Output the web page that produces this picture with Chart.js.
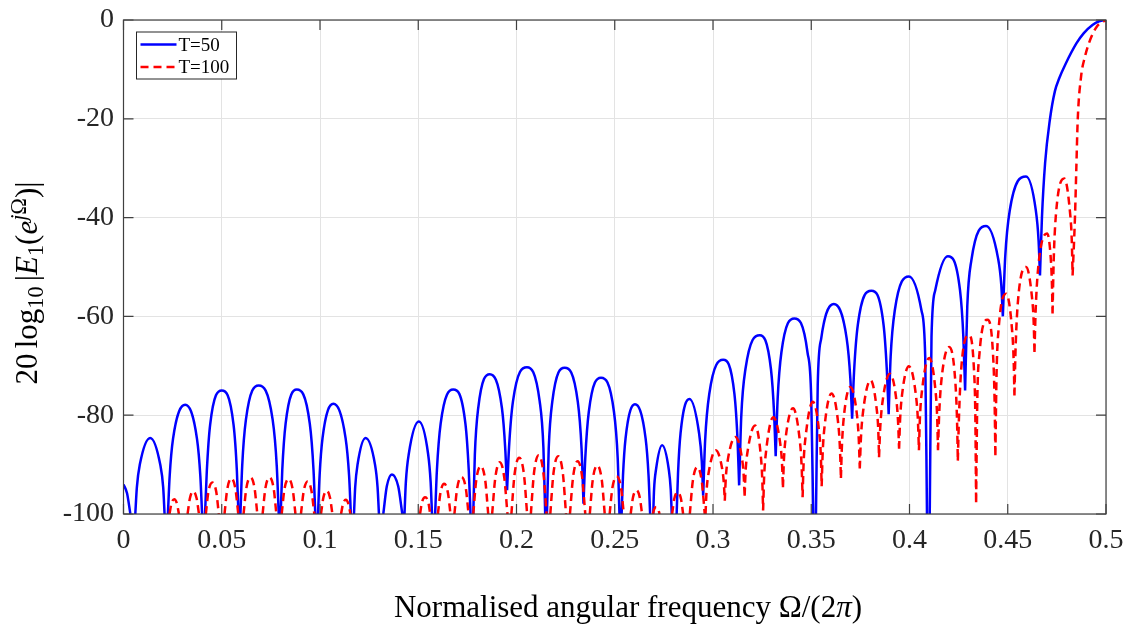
<!DOCTYPE html>
<html>
<head>
<meta charset="utf-8">
<script src="https://cdn.jsdelivr.net/npm/chart.js"></script>
<style>
  html, body { margin: 0; padding: 0; background: #fff; }
  canvas { display: block; }
</style>
</head>
<body>
<canvas id="chart" width="1138" height="627"></canvas>
<script>
// axis ticks
const xTicks = [0, 0.05, 0.1, 0.15, 0.2, 0.25, 0.3, 0.35, 0.4, 0.45, 0.5];
const xTickLabels = ['0', '0.05', '0.1', '0.15', '0.2', '0.25', '0.3', '0.35', '0.4', '0.45', '0.5'];
const yTicks = [-100, -80, -60, -40, -20, 0];
const yTickLabels = ['-100', '-80', '-60', '-40', '-20', '0'];
const seriesLabels = ['T=50', 'T=100'];

// |E1| in dB: [frequency, dB]
const lobesT50 = [
  [[0, -94.0], [0.0018, -95.8], [0.0035, -100]],
  [[0.0060, -100], [0.0068, -94.6], [0.0083, -90.0], [0.0136, -84.6], [0.0187, -90.0], [0.0202, -94.6], [0.0209, -100]],
  [[0.0226, -100], [0.0235, -92.3], [0.0252, -84.8], [0.0314, -77.9], [0.0374, -84.8], [0.0391, -92.3], [0.0400, -100]],
  [[0.0415, -100], [0.0424, -91.3], [0.0441, -81.9], [0.0500, -75.0], [0.0560, -81.9], [0.0577, -91.3], [0.0585, -100]],
  [[0.0595, -100], [0.0604, -90.3], [0.0623, -80.9], [0.0688, -74.0], [0.0759, -80.9], [0.0780, -90.3], [0.0790, -100]],
  [[0.0800, -100], [0.0808, -91.1], [0.0825, -81.7], [0.0882, -74.8], [0.0948, -81.7], [0.0967, -91.1], [0.0976, -100]],
  [[0.0990, -100], [0.0998, -92.2], [0.1013, -84.6], [0.1068, -77.7], [0.1130, -84.6], [0.1148, -92.2], [0.1157, -100]],
  [[0.1173, -100], [0.1179, -94.6], [0.1191, -90.0], [0.1232, -84.6], [0.1280, -90.0], [0.1293, -94.6], [0.1300, -100]],
  [[0.1322, -100], [0.1340, -94.4], [0.1366, -92.0], [0.1398, -94.4], [0.1419, -100]],
  [[0.1430, -100], [0.1437, -93.5], [0.1452, -87.8], [0.1503, -81.3], [0.1550, -87.8], [0.1563, -93.5], [0.1570, -100]],
  [[0.1586, -100], [0.1595, -91.1], [0.1614, -81.7], [0.1678, -74.8], [0.1740, -81.7], [0.1757, -91.1], [0.1766, -100]],
  [[0.1780, -100], [0.1788, -88.0], [0.1805, -78.6], [0.1864, -71.7], [0.1926, -78.6], [0.1943, -87.0], [0.1952, -95.2]],
  [[0.1952, -95.2], [0.1962, -86.5], [0.1982, -77.2], [0.2053, -70.3], [0.2118, -77.2], [0.2137, -86.6], [0.2146, -100]],
  [[0.2155, -100], [0.2164, -86.7], [0.2182, -77.3], [0.2245, -70.4], [0.2312, -77.3], [0.2331, -86.7], [0.2341, -97.9]],
  [[0.2341, -97.9], [0.2350, -88.7], [0.2368, -79.3], [0.2430, -72.4], [0.2496, -79.3], [0.2515, -88.7], [0.2524, -100]],
  [[0.2535, -100], [0.2542, -92.2], [0.2555, -84.7], [0.2603, -77.8], [0.2657, -84.7], [0.2672, -92.2], [0.2680, -100]],
  [[0.2696, -100], [0.2700, -95.1], [0.2710, -91.0], [0.2741, -86.1], [0.2775, -91.0], [0.2785, -95.1], [0.2790, -100]],
  [[0.2815, -100], [0.2822, -91.8], [0.2835, -83.6], [0.2880, -76.7], [0.2929, -83.6], [0.2943, -89.4], [0.2950, -96.3]],
  [[0.2950, -96.3], [0.2960, -85.1], [0.2981, -75.7], [0.3052, -68.8], [0.3109, -75.7], [0.3125, -85.1], [0.3133, -94.2]],
  [[0.3133, -94.2], [0.3144, -80.1], [0.3165, -70.7], [0.3238, -63.8], [0.3295, -70.7], [0.3311, -79.7], [0.3319, -88.3]],
  [[0.3319, -88.3], [0.3329, -76.7], [0.3348, -67.3], [0.3414, -60.4], [0.3481, -67.3], [0.3500, -76.7], [0.3510, -100]],
  [[0.3524, -100], [0.3533, -73.8], [0.3551, -64.4], [0.3615, -57.5], [0.3680, -64.4], [0.3699, -72.6], [0.3708, -80.7]],
  [[0.3708, -80.7], [0.3718, -71.1], [0.3737, -61.7], [0.3806, -54.8], [0.3868, -61.7], [0.3885, -71.1], [0.3894, -79.8]],
  [[0.3894, -79.8], [0.3904, -68.2], [0.3925, -58.8], [0.3997, -51.9], [0.4061, -58.8], [0.4080, -68.2], [0.4089, -100]],
  [[0.4103, -100], [0.4112, -64.1], [0.4131, -54.7], [0.4195, -47.8], [0.4257, -54.7], [0.4274, -64.1], [0.4283, -75.0]],
  [[0.4283, -75.0], [0.4294, -58.0], [0.4315, -48.6], [0.4390, -41.7], [0.4450, -48.1], [0.4467, -53.6], [0.4475, -60.0]],
  [[0.4475, -60.0], [0.4487, -48.0], [0.4510, -38.6], [0.4593, -31.7], [0.4643, -38.6], [0.4657, -44.7], [0.4664, -51.7]],
  [[0.4664, -51.7], [0.4674, -40.0], [0.4690, -29.0], [0.4714, -20.3], [0.4740, -14.4], [0.4762, -11.8], [0.4793, -9.0],
   [0.4850, -4.7], [0.4886, -2.7], [0.4931, -1.0], [0.4965, -0.26], [0.5000, 0]]
];

const lobesT100 = [
  [[0.0234, -100], [0.0244, -97.9], [0.0258, -97.0], [0.0272, -97.9], [0.0282, -100]],
  [[0.0326, -100], [0.0338, -96.8], [0.0355, -95.4], [0.0372, -96.8], [0.0384, -100]],
  [[0.0419, -100], [0.0432, -95.5], [0.0452, -93.6], [0.0472, -95.5], [0.0485, -100]],
  [[0.0514, -100], [0.0528, -95.0], [0.0549, -92.8], [0.0570, -95.0], [0.0584, -100]],
  [[0.0611, -100], [0.0625, -94.8], [0.0646, -92.6], [0.0667, -94.8], [0.0681, -100]],
  [[0.0708, -100], [0.0722, -94.8], [0.0743, -92.6], [0.0764, -94.8], [0.0778, -100]],
  [[0.0805, -100], [0.0819, -95.0], [0.0840, -92.9], [0.0861, -95.0], [0.0875, -100]],
  [[0.0903, -100], [0.0917, -95.4], [0.0937, -93.4], [0.0957, -95.4], [0.0971, -100]],
  [[0.1005, -100], [0.1017, -96.7], [0.1034, -95.3], [0.1051, -96.7], [0.1063, -100]],
  [[0.1107, -100], [0.1117, -98.0], [0.1131, -97.1], [0.1145, -98.0], [0.1155, -100]],
  [[0.1509, -100], [0.1519, -97.6], [0.1535, -96.6], [0.1551, -97.6], [0.1561, -100]],
  [[0.1600, -100], [0.1613, -95.7], [0.1632, -93.9], [0.1651, -95.7], [0.1664, -100]],
  [[0.1684, -100], [0.1698, -94.8], [0.1720, -92.5], [0.1742, -94.8], [0.1756, -100]],
  [[0.1780, -100], [0.1795, -93.2], [0.1818, -90.3], [0.1841, -93.2], [0.1856, -100]],
  [[0.1876, -100], [0.1892, -92.7], [0.1915, -89.5], [0.1938, -92.7], [0.1954, -100]],
  [[0.1974, -100], [0.1990, -92.0], [0.2014, -88.6], [0.2038, -92.0], [0.2054, -100]],
  [[0.2073, -100], [0.2089, -91.7], [0.2113, -88.1], [0.2137, -91.7], [0.2153, -100]],
  [[0.2172, -100], [0.2188, -91.8], [0.2212, -88.3], [0.2236, -91.8], [0.2252, -100]],
  [[0.2272, -100], [0.2288, -92.5], [0.2311, -89.3], [0.2334, -92.5], [0.2350, -100]],
  [[0.2373, -100], [0.2388, -93.1], [0.2411, -90.2], [0.2434, -93.1], [0.2449, -100]],
  [[0.2474, -100], [0.2488, -94.7], [0.2510, -92.4], [0.2532, -94.7], [0.2546, -100]],
  [[0.2581, -100], [0.2593, -96.6], [0.2610, -95.2], [0.2627, -96.6], [0.2639, -100]],
  [[0.2694, -100], [0.2701, -99.0], [0.2711, -98.6], [0.2721, -99.0], [0.2728, -100]],
  [[0.2792, -100], [0.2803, -96.9], [0.2820, -95.6], [0.2837, -96.9], [0.2848, -100]],
  [[0.2882, -100], [0.2897, -93.4], [0.2920, -90.5], [0.2943, -93.4], [0.2958, -100]],
  [[0.2962, -100], [0.2967, -95.5], [0.2978, -91.6], [0.3014, -87.1], [0.3046, -90.7], [0.3055, -93.7], [0.3060, -97.3]],
  [[0.3060, -97.3], [0.3065, -92.8], [0.3076, -88.9], [0.3114, -84.4], [0.3147, -88.6], [0.3156, -92.1], [0.3161, -96.3]],
  [[0.3161, -96.3], [0.3166, -91.3], [0.3177, -87.1], [0.3214, -82.1], [0.3243, -88.1], [0.3251, -93.3], [0.3255, -99.3]],
  [[0.3255, -99.3], [0.3260, -92.7], [0.3271, -87.0], [0.3307, -80.4], [0.3341, -85.4], [0.3351, -89.6], [0.3356, -94.6]],
  [[0.3356, -94.6], [0.3361, -89.0], [0.3371, -84.2], [0.3407, -78.6], [0.3441, -84.9], [0.3451, -90.3], [0.3456, -96.6]],
  [[0.3456, -96.6], [0.3461, -89.8], [0.3472, -84.1], [0.3508, -77.3], [0.3540, -83.3], [0.3549, -88.4], [0.3553, -94.4]],
  [[0.3553, -94.4], [0.3558, -87.8], [0.3568, -82.2], [0.3603, -75.6], [0.3637, -81.6], [0.3646, -86.7], [0.3651, -92.7]],
  [[0.3651, -92.7], [0.3656, -86.3], [0.3665, -80.7], [0.3699, -74.3], [0.3733, -80.1], [0.3742, -85.0], [0.3747, -90.8]],
  [[0.3747, -90.8], [0.3753, -84.5], [0.3764, -79.2], [0.3802, -72.9], [0.3832, -78.4], [0.3841, -83.0], [0.3845, -88.5]],
  [[0.3845, -88.5], [0.3851, -82.6], [0.3862, -77.5], [0.3900, -71.6], [0.3933, -76.9], [0.3942, -81.5], [0.3947, -86.8]],
  [[0.3947, -86.8], [0.3952, -81.0], [0.3962, -75.9], [0.3997, -70.1], [0.4033, -76.1], [0.4043, -81.2], [0.4048, -87.1]],
  [[0.4048, -87.1], [0.4053, -80.6], [0.4064, -74.9], [0.4100, -68.4], [0.4132, -74.9], [0.4141, -80.6], [0.4145, -87.1]],
  [[0.4145, -87.1], [0.4151, -79.8], [0.4162, -73.1], [0.4202, -66.2], [0.4233, -73.1], [0.4242, -81.2], [0.4246, -89.2]],
  [[0.4246, -89.2], [0.4252, -80.1], [0.4263, -70.7], [0.4302, -63.8], [0.4328, -70.7], [0.4335, -80.1], [0.4339, -97.6]],
  [[0.4339, -97.6], [0.4345, -77.0], [0.4356, -67.6], [0.4397, -60.7], [0.4425, -67.6], [0.4433, -77.0], [0.4437, -88.1]],
  [[0.4437, -88.1], [0.4443, -71.7], [0.4454, -62.3], [0.4492, -55.4], [0.4521, -62.3], [0.4530, -68.8], [0.4534, -76.0]],
  [[0.4534, -76.0], [0.4540, -66.3], [0.4552, -56.9], [0.4593, -50.0], [0.4623, -56.0], [0.4632, -61.2], [0.4636, -67.2]],
  [[0.4636, -67.2], [0.4642, -58.8], [0.4655, -50.1], [0.4700, -43.2], [0.4720, -48.9], [0.4725, -53.7], [0.4728, -59.4]],
  [[0.4728, -59.4], [0.4734, -48.4], [0.4746, -39.0], [0.4788, -32.1], [0.4817, -39.0], [0.4826, -44.8], [0.4830, -51.7]],
  [[0.4830, -51.7], [0.4842, -40.0], [0.4849, -30.0], [0.4856, -20.3], [0.4873, -11.5], [0.4893, -7.4], [0.4913, -4.7],
   [0.4952, -1.4], [0.5000, 0]]
];

const SERIF = '"Liberation Serif", "Times New Roman", serif';

// each lobe is its own piece of line, so the nulls stay sharp
function toPoints(lobes) {
  const pts = [];
  lobes.forEach(lobe => {
    lobe.forEach(([x, y]) => pts.push({ x: x, y: y }));
    pts.push({ x: lobe[lobe.length - 1][0], y: null });
  });
  return pts;
}

// text made of runs with italics, sub- and superscripts, centred on 0
function drawRuns(ctx, runs, size) {
  const fontOf = r => (r.it ? 'italic ' : '') + (size * (r.sc || 1)) + 'px ' + SERIF;
  let total = 0;
  const widths = runs.map(r => {
    if (r.gap) return r.gap * size;
    ctx.font = fontOf(r);
    return ctx.measureText(r.t).width;
  });
  widths.forEach(w => { total += w; });
  let x = -total / 2;
  ctx.textAlign = 'left';
  ctx.textBaseline = 'alphabetic';
  runs.forEach((r, i) => {
    if (!r.gap) {
      ctx.font = fontOf(r);
      ctx.fillText(r.t, x, (r.dy || 0) * size);
    }
    x += widths[i];
  });
}

const frame = {
  id: 'frame',
  afterDatasetsDraw(chart) {
    const { ctx, chartArea: a, scales: { x, y } } = chart;
    ctx.save();
    ctx.strokeStyle = '#404040';
    ctx.lineWidth = 1.2;
    ctx.strokeRect(a.left, a.top, a.right - a.left, a.bottom - a.top);
    ctx.beginPath();
    xTicks.forEach(v => {
      const px = x.getPixelForValue(v);
      ctx.moveTo(px, a.bottom); ctx.lineTo(px, a.bottom - 10);
      ctx.moveTo(px, a.top); ctx.lineTo(px, a.top + 10);
    });
    yTicks.forEach(v => {
      const py = y.getPixelForValue(v);
      ctx.moveTo(a.left, py); ctx.lineTo(a.left + 10, py);
      ctx.moveTo(a.right, py); ctx.lineTo(a.right - 10, py);
    });
    ctx.stroke();

    // legend box, top left inside the axes
    const lx = a.left + 13, ly = a.top + 12, lw = 100, lh = 47;
    ctx.fillStyle = '#fff';
    ctx.fillRect(lx, ly, lw, lh);
    ctx.strokeStyle = '#262626';
    ctx.lineWidth = 1;
    ctx.strokeRect(lx, ly, lw, lh);
    chart.data.datasets.forEach((ds, i) => {
      const rowY = ly + 12.5 + i * 22.4;
      ctx.beginPath();
      ctx.strokeStyle = ds.borderColor;
      ctx.lineWidth = 2.5;
      ctx.setLineDash(ds.borderDash || []);
      ctx.moveTo(lx + 4, rowY);
      ctx.lineTo(lx + 40, rowY);
      ctx.stroke();
      ctx.setLineDash([]);
      ctx.fillStyle = '#000';
      ctx.font = '19px ' + SERIF;
      ctx.textAlign = 'left';
      ctx.textBaseline = 'alphabetic';
      ctx.fillText(ds.label, lx + 42, rowY + 6.5);
    });
    ctx.restore();
  },
  afterDraw(chart) {
    const ctx = chart.ctx;
    ctx.save();
    ctx.fillStyle = '#000';
    // y axis title: 20 log10 |E1(e^{jΩ})|
    ctx.translate(36.7, 283);
    ctx.rotate(-Math.PI / 2);
    drawRuns(ctx, [
      { t: '20' }, { gap: 0.167 }, { t: 'log' }, { t: '10', sc: 0.72, dy: 0.21 }, { gap: 0.167 },
      { t: '|' }, { t: 'E', it: true }, { t: '1', sc: 0.72, dy: 0.21 }, { t: '(' }, { t: 'e', it: true },
      { t: 'j', it: true, sc: 0.72, dy: -0.33 }, { t: 'Ω', sc: 0.72, dy: -0.33 }, { t: ')' }, { t: '|' }
    ], 31);
    ctx.restore();

    ctx.save();
    ctx.fillStyle = '#000';
    ctx.translate(628, 617);
    drawRuns(ctx, [
      { t: 'Normalised angular frequency Ω/(2' }, { t: 'π', it: true }, { t: ')' }
    ], 31);
    ctx.restore();
  }
};

new Chart(document.getElementById('chart'), {
  type: 'line',
  data: {
    datasets: [
      {
        label: seriesLabels[0],
        data: toPoints(lobesT50),
        borderColor: '#0000ff',
        borderWidth: 2.5,
        pointRadius: 0,
        cubicInterpolationMode: 'monotone',
        spanGaps: false,
        clip: 0,
        order: 2
      },
      {
        label: seriesLabels[1],
        data: toPoints(lobesT100),
        borderColor: '#ff0000',
        borderWidth: 2.5,
        borderDash: [8, 5],
        pointRadius: 0,
        cubicInterpolationMode: 'monotone',
        spanGaps: false,
        clip: 0,
        order: 1
      }
    ]
  },
  options: {
    responsive: false,
    animation: false,
    devicePixelRatio: 1,
    layout: { padding: { top: 20, right: 32, bottom: 0, left: 0 } },
    plugins: { legend: { display: false }, tooltip: { enabled: false } },
    scales: {
      x: {
        type: 'linear',
        min: 0,
        max: 0.5,
        afterBuildTicks: s => { s.ticks = xTicks.map(v => ({ value: v })); },
        afterFit: s => { s.height = 113; },
        ticks: {
          autoSkip: false,
          maxRotation: 0,
          padding: 9.5,
          font: { family: SERIF, size: 28 },
          color: '#262626',
          callback: v => xTickLabels[xTicks.indexOf(v)]
        },
        grid: { color: '#e3e3e3', lineWidth: 1, drawTicks: false },
        border: { display: false }
      },
      y: {
        type: 'linear',
        min: -100,
        max: 0,
        afterBuildTicks: s => { s.ticks = yTicks.map(v => ({ value: v })); },
        afterFit: s => { s.width = 123.5; },
        ticks: {
          autoSkip: false,
          padding: 9.5,
          // small line height so the top label does not push the plot down
          font: { family: SERIF, size: 28, lineHeight: 0.7 },
          color: '#262626',
          callback: v => yTickLabels[yTicks.indexOf(v)]
        },
        grid: { color: '#e3e3e3', lineWidth: 1, drawTicks: false },
        border: { display: false }
      }
    }
  },
  plugins: [frame]
});
</script>
</body>
</html>
